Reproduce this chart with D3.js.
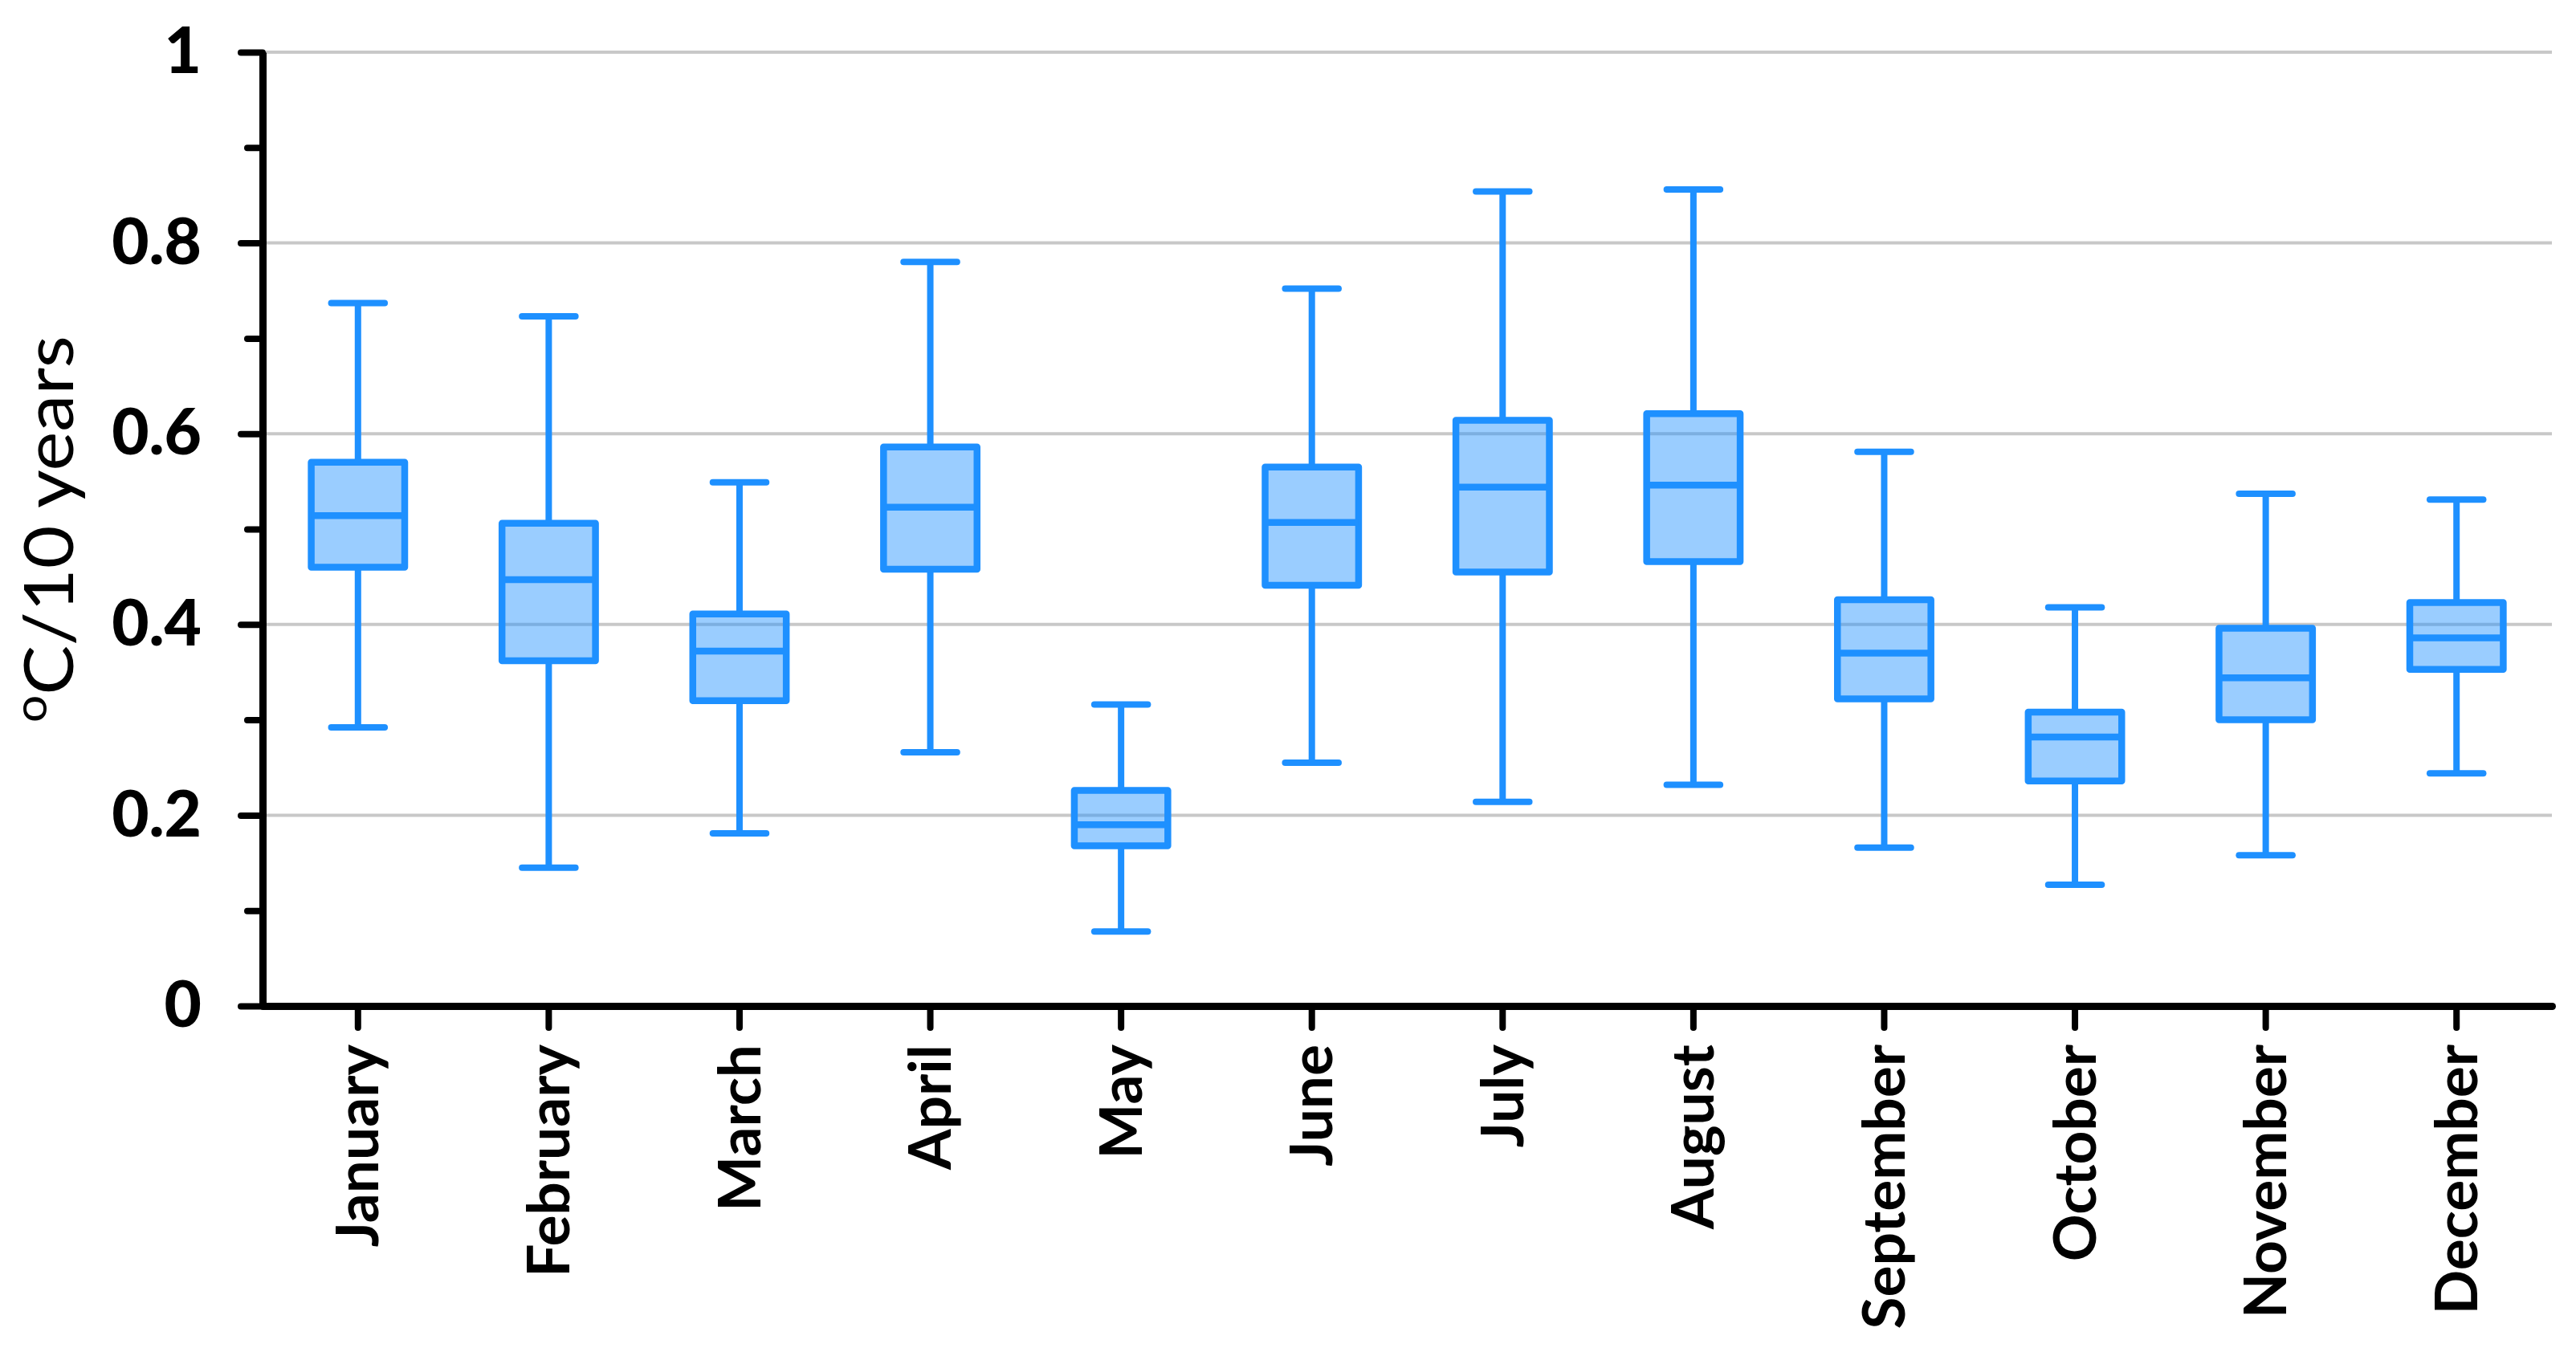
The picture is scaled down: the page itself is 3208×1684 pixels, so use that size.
<!DOCTYPE html>
<html>
<head>
<meta charset="utf-8">
<script src="https://cdn.jsdelivr.net/npm/d3@7"></script>
<style>
  html, body { margin: 0; padding: 0; background: #fff; }
  svg { display: block; }
</style>
</head>
<body>
<svg id="chart" width="3208" height="1684"></svg>
<script>
// ---- Data ----
const months = ["January","February","March","April","May","June","July","August","September","October","November","December"];
const whiskerLow  = [0.292, 0.145, 0.181, 0.266, 0.078, 0.255, 0.214, 0.232, 0.166, 0.127, 0.158, 0.244];
const q1          = [0.460, 0.362, 0.320, 0.458, 0.168, 0.441, 0.455, 0.466, 0.322, 0.236, 0.300, 0.353];
const median      = [0.514, 0.447, 0.372, 0.523, 0.190, 0.507, 0.544, 0.546, 0.370, 0.282, 0.344, 0.386];
const q3          = [0.570, 0.506, 0.411, 0.586, 0.226, 0.565, 0.614, 0.621, 0.426, 0.308, 0.396, 0.423];
const whiskerHigh = [0.737, 0.723, 0.549, 0.780, 0.316, 0.752, 0.854, 0.856, 0.581, 0.418, 0.537, 0.531];
const majorTicks  = [0, 0.2, 0.4, 0.6, 0.8, 1];
const minorTicks  = [0.1, 0.3, 0.5, 0.7, 0.9];
const yTitleDegree = "o";
const yTitle = "C/10 years";

const rows = months.map((m, i) => ({
  month: m, lo: whiskerLow[i], q1: q1[i], med: median[i], q3: q3[i], hi: whiskerHigh[i]
}));

// ---- Layout ----
const svg = d3.select("#chart");
const plotLeft = 327, plotRight = 3178, plotTop = 65, plotBottom = 1253;
const blue = "#1E90FF";

const x = d3.scaleBand().domain(months).range([plotLeft, plotRight]).padding(0);
const y = d3.scaleLinear().domain([0, 1]).range([plotBottom, plotTop]);

// gridlines
svg.append("g")
  .selectAll("line")
  .data(majorTicks.filter(d => d > 0))
  .join("line")
  .attr("x1", plotLeft + 4).attr("x2", plotRight)
  .attr("y1", d => y(d)).attr("y2", d => y(d))
  .attr("stroke", "#c8c8c8").attr("stroke-width", 4);

// boxes
const bw = x.bandwidth();
const boxW = bw * 0.49;
const capHalf = bw * 0.14;
const g = svg.append("g");
const item = g.selectAll("g.box").data(rows).join("g").attr("class", "box")
  .attr("transform", d => `translate(${x(d.month) + bw / 2},0)`);

item.append("line") // upper whisker
  .attr("x1", 0).attr("x2", 0)
  .attr("y1", d => y(d.q3)).attr("y2", d => y(d.hi))
  .attr("stroke", blue).attr("stroke-width", 8);
item.append("line") // lower whisker
  .attr("x1", 0).attr("x2", 0)
  .attr("y1", d => y(d.q1)).attr("y2", d => y(d.lo))
  .attr("stroke", blue).attr("stroke-width", 8);
item.append("line") // top cap
  .attr("x1", -capHalf).attr("x2", capHalf)
  .attr("y1", d => y(d.hi)).attr("y2", d => y(d.hi))
  .attr("stroke", blue).attr("stroke-width", 8).attr("stroke-linecap", "round");
item.append("line") // bottom cap
  .attr("x1", -capHalf).attr("x2", capHalf)
  .attr("y1", d => y(d.lo)).attr("y2", d => y(d.lo))
  .attr("stroke", blue).attr("stroke-width", 8).attr("stroke-linecap", "round");
item.append("rect")
  .attr("x", -boxW / 2).attr("width", boxW)
  .attr("y", d => y(d.q3)).attr("height", d => y(d.q1) - y(d.q3))
  .attr("fill", blue).attr("fill-opacity", 0.45)
  .attr("stroke", blue).attr("stroke-width", 8.5).attr("stroke-linejoin", "round");
item.append("line") // median
  .attr("x1", -boxW / 2).attr("x2", boxW / 2)
  .attr("y1", d => y(d.med)).attr("y2", d => y(d.med))
  .attr("stroke", blue).attr("stroke-width", 8.5);

// y axis (major)
const yAxis = svg.append("g").attr("transform", `translate(${plotLeft},0)`)
  .call(d3.axisLeft(y).tickValues(majorTicks).tickSize(27).tickSizeOuter(0).tickPadding(49)
    .tickFormat(d => (d === 0 || d === 1) ? String(d) : d.toFixed(1)));
yAxis.select(".domain").attr("stroke", "#000").attr("stroke-width", 9);
yAxis.selectAll(".tick line").attr("stroke", "#000").attr("stroke-width", 8).attr("stroke-linecap", "round");
yAxis.selectAll(".tick text")
  .attr("fill", "#000")
  .style("font-family", "Lato, 'Open Sans', sans-serif")
  .style("font-weight", "900")
  .style("font-size", "80px");

// y axis (minor)
const yMinor = svg.append("g").attr("transform", `translate(${plotLeft},0)`)
  .call(d3.axisLeft(y).tickValues(minorTicks).tickSize(19).tickSizeOuter(0).tickFormat(""));
yMinor.select(".domain").remove();
yMinor.selectAll(".tick line").attr("stroke", "#000").attr("stroke-width", 8).attr("stroke-linecap", "round");

// x axis
const xAxis = svg.append("g").attr("transform", `translate(0,${plotBottom})`)
  .call(d3.axisBottom(x).tickSize(27).tickSizeOuter(0));
xAxis.select(".domain").attr("stroke", "#000").attr("stroke-width", 9).attr("stroke-linecap", "round");
xAxis.selectAll(".tick line").attr("stroke", "#000").attr("stroke-width", 8).attr("stroke-linecap", "round");
xAxis.selectAll(".tick text")
  .attr("transform", "rotate(-90)")
  .attr("text-anchor", "end")
  .attr("x", -48).attr("y", 0).attr("dy", "0.35em")
  .attr("fill", "#000")
  .style("font-family", "Lato, 'Open Sans', sans-serif")
  .style("font-weight", "bold")
  .style("font-size", "73px");

// y title
const title = svg.append("text")
  .attr("transform", "translate(91,900) rotate(-90)")
  .attr("text-anchor", "start")
  .attr("textLength", 482)
  .attr("lengthAdjust", "spacingAndGlyphs")
  .style("font-family", "Lato, 'Open Sans', sans-serif")
  .style("font-size", "86px")
  .attr("fill", "#000");
title.append("tspan").text(yTitleDegree).style("font-size", "56px").attr("dy", "-33");
title.append("tspan").text(yTitle).attr("dy", "33");
</script>
</body>
</html>
